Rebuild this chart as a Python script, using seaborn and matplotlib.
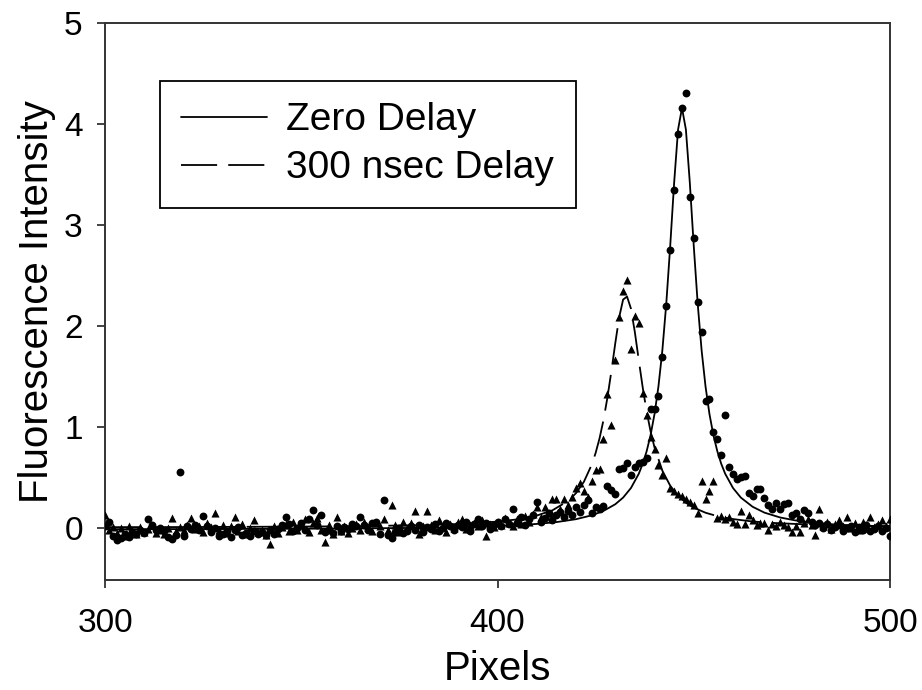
import pandas as pd
import matplotlib
matplotlib.use("Agg")
import matplotlib.pyplot as plt
import seaborn as sns

# pixel index of each sample (one reading per detector pixel)
pixels = list(range(300, 501))

# zero delay readings (circles), pixels 300..500
zero_delay = [
    0.02, 0.06, -0.08, -0.12, -0.10, -0.06, -0.09, -0.04, -0.06, -0.02,
    -0.05, 0.08, 0.03, -0.02, 0.00, -0.03, -0.09, -0.11, -0.07, 0.55,
    -0.08, 0.02, -0.01, 0.03, -0.02, 0.11, 0.02, -0.04, 0.00, -0.08,
    -0.06, -0.03, -0.09, -0.02, 0.01, -0.07, -0.05, -0.08, -0.03, -0.06,
    -0.04, -0.07, -0.02, -0.06, -0.01, 0.03, 0.10, 0.04, -0.03, 0.00,
    0.05, -0.02, 0.08, 0.17, 0.03, 0.12, -0.04, -0.02, -0.05, 0.02,
    -0.03, 0.01, -0.01, 0.04, 0.02, 0.10, 0.03, -0.02, 0.05, 0.06,
    -0.06, 0.27, -0.07, -0.10, -0.04, 0.00, -0.05, -0.03, 0.02, -0.02,
    0.03, -0.04, 0.01, -0.01, 0.04, -0.03, 0.00, 0.05, 0.02, -0.02,
    0.03, 0.01, 0.06, -0.03, 0.04, 0.08, 0.02, 0.05, -0.01, 0.03,
    0.06, 0.02, 0.08, 0.04, 0.18, 0.05, 0.10, 0.03, 0.08, 0.12,
    0.25, 0.06, 0.09, 0.14, 0.07, 0.12, 0.15, 0.10, 0.16, 0.12,
    0.20, 0.15, 0.22, 0.27, 0.14, 0.20, 0.18, 0.21, 0.41, 0.37,
    0.33, 0.58, 0.59, 0.64, 0.52, 0.60, 0.64, 0.65, 0.69, 1.18,
    1.18, 1.30, 1.69, 2.20, 2.75, 3.35, 3.90, 4.16, 4.31, 3.28,
    2.87, 2.24, 1.94, 1.25, 1.27, 0.95, 0.88, 0.72, 1.12, 0.60,
    0.53, 0.48, 0.50, 0.51, 0.34, 0.31, 0.38, 0.38, 0.29, 0.22,
    0.18, 0.24, 0.18, 0.23, 0.24, 0.12, 0.14, 0.08, 0.17, 0.14,
    0.06, 0.03, 0.05, 0.00, 0.04, -0.02, 0.01, 0.03, -0.03, 0.00,
    0.02, -0.04, 0.01, -0.02, 0.03, -0.03, -0.01, 0.02, -0.03, 0.00,
    -0.08,
]

# 300 nsec delay readings (triangles), pixels 300..500
delay_300 = [
    0.12, -0.02, 0.01, -0.05, 0.00, -0.08, 0.02, -0.03, -0.06, 0.01,
    -0.04, -0.01, 0.03, -0.05, -0.02, -0.06, 0.00, 0.09, -0.03, 0.01,
    -0.02, 0.03, 0.09, -0.01, 0.02, -0.04, 0.05, 0.01, 0.14, -0.02,
    0.03, -0.05, 0.02, 0.10, -0.03, 0.04, -0.06, 0.00, 0.07, -0.04,
    -0.02, -0.07, -0.16, 0.02, -0.05, 0.01, 0.04, -0.03, 0.06, -0.02,
    0.03, 0.08, -0.04, 0.05, 0.09, -0.02, -0.14, 0.03, -0.06, 0.10,
    -0.03, 0.02, -0.05, 0.00, 0.04, -0.02, 0.06, 0.01, -0.03, 0.05,
    0.02, 0.08, -0.02, 0.22, 0.03, -0.04, 0.06, 0.00, 0.05, 0.16,
    -0.06, 0.02, 0.16, 0.03, -0.02, 0.07, 0.01, -0.04, 0.04, 0.00,
    0.06, 0.08, -0.01, 0.03, 0.05, 0.02, 0.07, -0.08, 0.04, 0.01,
    0.06, 0.03, 0.09, 0.05, 0.02, 0.08, 0.04, 0.11, 0.06, 0.13,
    0.20, 0.10, 0.20, 0.14, 0.28, 0.28, 0.18, 0.28, 0.22, 0.30,
    0.39, 0.44, 0.36, 0.30, 0.46, 0.57, 0.58, 0.88, 1.32, 1.02,
    1.66, 2.09, 2.35, 2.45, 1.77, 2.10, 2.03, 1.33, 1.12, 0.90,
    0.78, 0.62, 0.52, 0.69, 0.39, 0.36, 0.33, 0.31, 0.28, 0.25,
    0.22, 0.14, 0.46, 0.28, 0.36, 0.46, 0.09, 0.11, 0.08, 0.10,
    0.06, 0.04, 0.16, 0.04, 0.12, 0.07, 0.03, 0.05, 0.05, -0.02,
    0.04, 0.02, 0.06, 0.03, 0.01, -0.04, 0.02, -0.04, 0.05, 0.08,
    0.03, -0.07, 0.18, 0.02, 0.06, -0.01, 0.04, 0.07, 0.02, 0.10,
    0.00, 0.05, -0.02, 0.06, 0.03, 0.10, 0.01, 0.04, 0.07, 0.02,
    0.08,
]

# fitted curves
zero_fit_x = [300, 320, 340, 360, 380, 390, 400, 405, 410, 415, 420, 424, 427,
              430, 432, 434, 436, 437, 438, 439, 440, 441, 442, 443, 444, 445,
              446, 447, 448, 449, 450, 451, 452, 453, 454, 455, 456, 457, 458,
              460, 462, 465, 468, 472, 476, 480, 485, 490, 495, 500]
zero_fit_y = [-0.016, -0.015, -0.013, -0.010, -0.003, 0.004, 0.015, 0.023, 0.036,
              0.054, 0.083, 0.121, 0.165, 0.231, 0.297, 0.392, 0.534, 0.632,
              0.757, 0.917, 1.125, 1.398, 1.757, 2.221, 2.791, 3.417, 3.945,
              4.160, 3.945, 3.417, 2.791, 2.221, 1.757, 1.398, 1.125, 0.917,
              0.757, 0.632, 0.534, 0.392, 0.297, 0.206, 0.148, 0.100, 0.070,
              0.050, 0.033, 0.021, 0.013, 0.007]

delay_fit_x = [300, 320, 340, 360, 380, 390, 400, 405, 410, 414, 418, 420, 422,
               424, 425, 426, 427, 428, 429, 430, 431, 432, 433, 434, 435, 436,
               437, 438, 439, 440, 442, 444, 446, 448, 450, 453, 456, 460, 465,
               470, 480, 490, 500]
delay_fit_y = [0.004, 0.005, 0.008, 0.012, 0.023, 0.035, 0.059, 0.081, 0.119,
               0.171, 0.265, 0.341, 0.453, 0.623, 0.740, 0.885, 1.066, 1.288,
               1.547, 1.826, 2.085, 2.260, 2.290, 2.170, 1.935, 1.657, 1.387,
               1.150, 0.953, 0.794, 0.564, 0.415, 0.315, 0.246, 0.197, 0.147,
               0.113, 0.084, 0.060, 0.046, 0.029, 0.020, 0.014]

points = pd.DataFrame({"Pixels": pixels, "zero": zero_delay, "delay": delay_300})
zero_fit = pd.DataFrame({"Pixels": zero_fit_x, "y": zero_fit_y})
delay_fit = pd.DataFrame({"Pixels": delay_fit_x, "y": delay_fit_y})

sns.set_style("white")
plt.rcParams["font.family"] = ["Liberation Sans", "DejaVu Sans"]
plt.rcParams["lines.scale_dashes"] = False
plt.rcParams["text.color"] = "black"
plt.rcParams["axes.labelcolor"] = "black"

fig = plt.figure(figsize=(9.22, 6.9), dpi=100)
ax = fig.add_axes([0.1139, 0.1594, 0.8514, 0.807])

sns.scatterplot(data=points, x="Pixels", y="zero", ax=ax, marker="o", s=32,
                color="black", edgecolor="black", linewidth=0, zorder=3, legend=False)
sns.scatterplot(data=points, x="Pixels", y="delay", ax=ax, marker="^", s=34,
                color="black", edgecolor="black", linewidth=0, zorder=3, legend=False)

sns.lineplot(data=zero_fit, x="Pixels", y="y", ax=ax, color="black", lw=1.3,
             label="Zero Delay", zorder=4)
sns.lineplot(data=delay_fit, x="Pixels", y="y", ax=ax, color="black", lw=1.3,
             label="300 nsec Delay", zorder=4)
ax.lines[1].set_linestyle((0, (26, 8)))

ax.set_xlim(300, 500)
ax.set_ylim(-0.52, 5)
ax.set_xticks([300, 400, 500])
ax.set_yticks([0, 1, 2, 3, 4, 5])
ax.set_xlabel("Pixels", fontsize=29, labelpad=8)
ax.set_ylabel("Fluorescence Intensity", fontsize=29, labelpad=6)
ax.tick_params(axis="both", direction="out", length=6, width=1.2, colors="#222222",
               labelsize=24, labelcolor="black", bottom=True, left=True,
               top=False, right=False)
ax.tick_params(axis="x", pad=14)
ax.tick_params(axis="y", pad=10)

for side in ["top", "bottom", "left", "right"]:
    ax.spines[side].set_visible(True)
    ax.spines[side].set_color("#333333")
    ax.spines[side].set_linewidth(1.4)

leg = ax.legend(loc="upper left", bbox_to_anchor=(0.070, 0.896), borderaxespad=0,
                fontsize=28, frameon=True, fancybox=False, framealpha=1,
                edgecolor="black", handlelength=2.2, handletextpad=0.5,
                labelspacing=0.3, borderpad=0.55)
leg.get_frame().set_linewidth(1.3)
for t in leg.get_texts():
    t.set_color("black")

fig.savefig("out.png", dpi=100)
